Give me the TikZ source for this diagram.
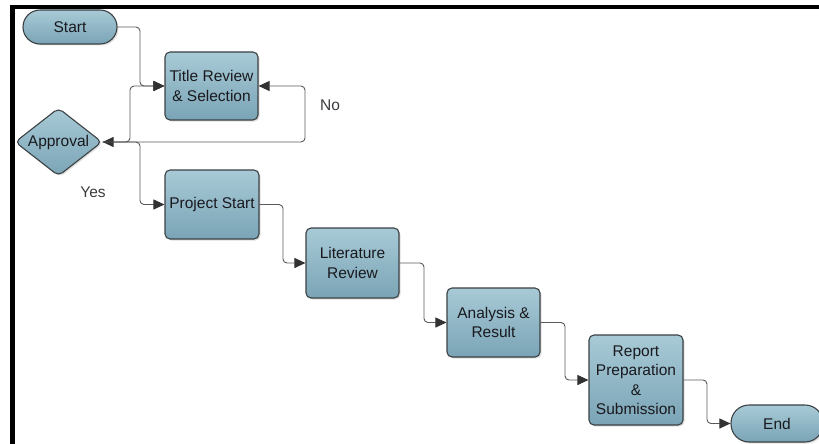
\documentclass[tikz,border=0pt]{standalone}
\usepackage{fontspec}
\setmainfont{Liberation Sans}
\usetikzlibrary{shapes.geometric,arrows.meta,shadows}
\definecolor{boxlight}{RGB}{168,202,214}
\definecolor{boxdark}{RGB}{122,164,182}
\definecolor{boxedge}{RGB}{60,65,68}
\definecolor{lineclr}{RGB}{90,90,90}
\definecolor{headclr}{RGB}{50,50,50}
\definecolor{txtclr}{RGB}{25,25,30}
\begin{document}
\begin{tikzpicture}[x=1pt,y=-1pt,
  every node/.style={font=\fontsize{15.5}{19.5}\selectfont, text=txtclr},
  basebox/.style={draw=boxedge, line width=1.1pt, top color=boxlight, bottom color=boxdark,
    drop shadow={shadow xshift=1.5pt, shadow yshift=-1.5pt, opacity=0.25}},
  procbox/.style={basebox, rectangle, rounded corners=5pt, align=center, inner sep=0pt},
  termbox/.style={basebox, rectangle, rounded corners=17pt, inner sep=0pt},
  decbox/.style={basebox, diamond, rounded corners=5pt, inner sep=0pt, minimum width=87pt, minimum height=68pt},
  tiphead/.tip={Triangle[length=11pt,width=10pt,color=headclr]},
  conn/.style={draw=lineclr, line width=0.9pt, rounded corners=4pt, -tiphead},
  lbl/.style={text=txtclr!85}
]
\useasboundingbox (0,0) rectangle (819,444);
% frame edges
\fill[black] (10,5) rectangle (819,9.5);
\fill[black] (10,5) rectangle (14.5,444);

\node[termbox, minimum width=94pt, minimum height=34pt] (start) at (70,27) {Start};
\node[procbox, minimum width=93pt, minimum height=68pt] (title) at (211.5,86) {Title Review\\\& Selection};
\node[decbox] (appr) at (58.5,142) {\makebox[0pt]{Approval}};
\node[procbox, minimum width=94pt, minimum height=69pt] (ps) at (212,204.5) {Project Start};
\node[procbox, minimum width=93pt, minimum height=70pt] (lit) at (352.5,263) {Literature\\Review};
\node[procbox, minimum width=93pt, minimum height=69pt] (ana) at (493.5,322.5) {Analysis \&\\Result};
\node[procbox, minimum width=94pt, minimum height=90pt] (rep) at (636,380) {Report\\Preparation\\\&\\Submission};
\node[termbox, minimum width=92pt, minimum height=37pt, rounded corners=18pt] (end) at (777,423.5) {End};

\node[lbl] (no) at (330,105) {No};
\node[lbl] (yes) at (93,192) {Yes};

\coordinate (c1) at (140,86);
\coordinate (c2) at (130,86);
\coordinate (c3) at (305,142);
\coordinate (c4) at (140,204.5);
\coordinate (c5) at (283,263);
\coordinate (c6) at (424,322.5);
\coordinate (c7) at (565,380);
\coordinate (c8) at (707,423.5);

\draw[conn] (start.east) -| (c1) -- (title.west);
\draw[conn] (appr.east) -| (c2) -- (title.west);
\draw[conn, tiphead-tiphead] (title.east) -| (c3) -- (appr.east);
\draw[conn] (appr.east) -| (c4) -- (ps.west);
\draw[conn] (ps.east) -| (c5) -- (lit.west);
\draw[conn] (lit.east) -| (c6) -- (ana.west);
\draw[conn] (ana.east) -| (c7) -- (rep.west);
\draw[conn] (rep.east) -| (c8) -- (end.west);
\end{tikzpicture}
\end{document}
